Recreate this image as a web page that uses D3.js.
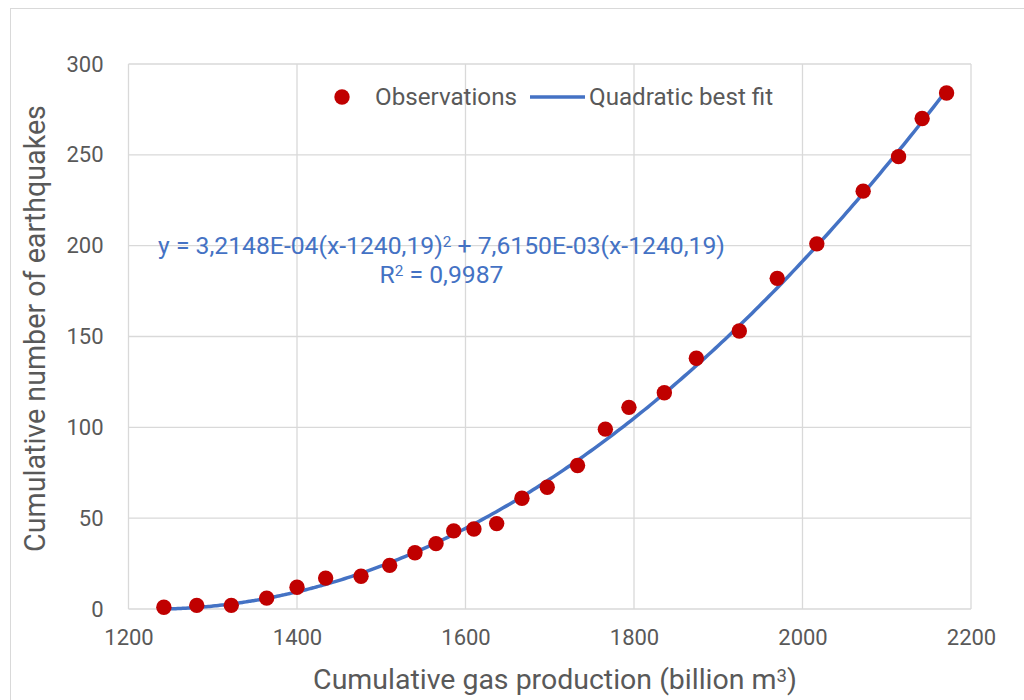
<!DOCTYPE html>
<html>
<head>
<meta charset="utf-8">
<script src="https://cdn.jsdelivr.net/npm/d3@7"></script>
<style>
  body { margin: 0; background: #fff; }
  text { font-family: Roboto, "Open Sans", sans-serif; }
</style>
</head>
<body>
<div id="chart"></div>
<script>
// observations
const gasProduction = [1242, 1281, 1322, 1364, 1400, 1434, 1476, 1510, 1540, 1565, 1586, 1610, 1637,
  1667, 1697, 1733, 1766, 1794, 1836, 1874, 1925, 1970, 2017, 2072, 2114, 2142, 2171];
const earthquakes = [1, 2, 2, 6, 12, 17, 18, 24, 31, 36, 43, 44, 47,
  61, 67, 79, 99, 111, 119, 138, 153, 182, 201, 230, 249, 270, 284];

// trend line coefficients as printed on the chart
const fitA = 3.2148e-4;
const fitB = 7.615e-3;
const fitX0 = 1240.19;

const xTicks = [1200, 1400, 1600, 1800, 2000, 2200];
const yTicks = [0, 50, 100, 150, 200, 250, 300];

const width = 1024;
const height = 700;
const margin = { left: 128.5, right: 1024 - 971, top: 64, bottom: 700 - 609 };
const grey = "#595959";
const blue = "#4472c4";
const red = "#c00000";

const svg = d3.select("#chart").append("svg")
  .attr("width", width)
  .attr("height", height);

svg.append("rect")
  .attr("x", 10.5).attr("y", 8.5)
  .attr("width", width - 10).attr("height", height - 8)
  .attr("fill", "#fff").attr("stroke", "#d9d9d9");

// shrink or grow a text until it is as wide as in the reference
const fitWidth = (sel, target) => {
  const fs = +sel.attr("font-size");
  const w = sel.node().getComputedTextLength();
  sel.attr("font-size", (fs * target / w).toFixed(2));
  return sel;
};

const x = d3.scaleLinear().domain([1200, 2200]).range([margin.left, width - margin.right]);
const y = d3.scaleLinear().domain([0, 300]).range([height - margin.bottom, margin.top]);

// grid
svg.append("g")
  .selectAll("line")
  .data(xTicks)
  .join("line")
  .attr("x1", d => x(d)).attr("x2", d => x(d))
  .attr("y1", y(0)).attr("y2", y(300))
  .attr("stroke", "#d9d9d9").attr("stroke-width", 1.3);

svg.append("g")
  .selectAll("line")
  .data(yTicks)
  .join("line")
  .attr("x1", x(1200)).attr("x2", x(2200))
  .attr("y1", d => y(d)).attr("y2", d => y(d))
  .attr("stroke", "#d9d9d9").attr("stroke-width", 1.3);

// axes (labels only)
const xAxis = svg.append("g")
  .attr("transform", `translate(0,${y(0)})`)
  .call(d3.axisBottom(x).tickValues(xTicks).tickSize(0).tickPadding(20).tickFormat(d3.format("d")));
const yAxis = svg.append("g")
  .attr("transform", `translate(${x(1200)},0)`)
  .call(d3.axisLeft(y).tickValues(yTicks).tickSize(0).tickPadding(25));

[xAxis, yAxis].forEach(g => {
  g.select(".domain").remove();
  g.selectAll("text")
    .attr("font-family", "Roboto, sans-serif")
    .attr("font-size", 22)
    .attr("fill", grey);
});

// fit line
const fitXs = d3.range(fitX0, d3.max(gasProduction) + 0.5, 4);
const line = d3.line()
  .x(d => x(d))
  .y(d => y(fitA * (d - fitX0) ** 2 + fitB * (d - fitX0)))
  .curve(d3.curveMonotoneX);

svg.append("path")
  .datum(fitXs)
  .attr("d", line)
  .attr("fill", "none")
  .attr("stroke", blue)
  .attr("stroke-width", 3.5)
  .attr("stroke-linecap", "round");

// observation markers
svg.append("g")
  .selectAll("circle")
  .data(gasProduction)
  .join("circle")
  .attr("cx", d => x(d))
  .attr("cy", (d, i) => y(earthquakes[i]))
  .attr("r", 7.7)
  .attr("fill", red);

// legend
const legend = svg.append("g");
legend.append("circle").attr("cx", 342).attr("cy", 97).attr("r", 7.7).attr("fill", red);
const l1 = legend.append("text").attr("x", 375).attr("y", 105).attr("font-size", 22).attr("fill", grey).text("Observations");
fitWidth(l1, 142);
legend.append("line")
  .attr("x1", 530).attr("x2", 585).attr("y1", 97).attr("y2", 97)
  .attr("stroke", blue).attr("stroke-width", 3.5);
legend.append("text").attr("x", 589).attr("y", 105).attr("font-size", l1.attr("font-size"))
  .attr("fill", grey).text("Quadratic best fit");

// equation
const eq1 = svg.append("text").attr("x", 441.5).attr("y", 253.5)
  .attr("text-anchor", "middle").attr("fill", blue).attr("font-size", 20);
eq1.append("tspan").text("y = 3,2148E-04(x-1240,19)");
eq1.append("tspan").attr("dy", "-0.4em").attr("font-size", "0.62em").text("2");
eq1.append("tspan").attr("dy", "0.25em").text(" + 7,6150E-03(x-1240,19)");
fitWidth(eq1, 567);
const eq2 = svg.append("text").attr("x", 441.5).attr("y", 282.5)
  .attr("text-anchor", "middle").attr("fill", blue).attr("font-size", eq1.attr("font-size"));
eq2.append("tspan").text("R");
eq2.append("tspan").attr("dy", "-0.4em").attr("font-size", "0.62em").text("2");
eq2.append("tspan").attr("dy", "0.25em").text(" = 0,9987");

// axis titles
const yt = svg.append("text")
  .attr("transform", `translate(45,328.5) rotate(-90)`)
  .attr("text-anchor", "middle")
  .attr("font-size", 26)
  .attr("fill", grey)
  .text("Cumulative number of earthquakes");
fitWidth(yt, 447);

const xt = svg.append("text")
  .attr("x", 555).attr("y", 689)
  .attr("text-anchor", "middle")
  .attr("font-size", 26)
  .attr("fill", grey);
xt.append("tspan").text("Cumulative gas production (billion m");
xt.append("tspan").attr("dy", "-0.4em").attr("font-size", "0.65em").text("3");
xt.append("tspan").attr("dy", "0.26em").text(")");
fitWidth(xt, 484);
</script>
</body>
</html>
